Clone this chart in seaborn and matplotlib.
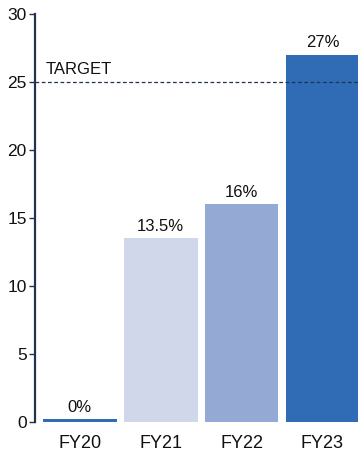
import matplotlib
matplotlib.use("Agg")
import matplotlib.pyplot as plt
import seaborn as sns
import pandas as pd

categories = ["FY20", "FY21", "FY22", "FY23"]
values = [0.2, 13.5, 16, 27]
value_labels = ["0%", "13.5%", "16%", "27%"]
colors = ["#2f6cb5", "#d0d7ea", "#95a9d5", "#2f6cb5"]
target = 25
yticks = [0, 5, 10, 15, 20, 25, 30]

sns.set_style("white")
plt.rcParams["font.family"] = ["Liberation Sans", "DejaVu Sans"]

navy = "#22324f"
df = pd.DataFrame({"cat": categories, "val": values})

fig = plt.figure(figsize=(3.58, 4.59), dpi=100)
ax = fig.add_axes([35 / 358, 1 - 422 / 459, (358 - 35) / 358, (422 - 14) / 459])

sns.barplot(data=df, x="cat", y="val", hue="cat", palette=colors, legend=False,
            width=0.91, ax=ax, saturation=1, linewidth=0)

ax.set_xlim(-0.555, 3.44)
ax.set_ylim(0, 30)
ax.set_yticks(yticks)
ax.set_xlabel("")
ax.set_ylabel("")

for s in ["top", "right", "bottom"]:
    ax.spines[s].set_visible(False)
ax.spines["left"].set_color(navy)
ax.spines["left"].set_linewidth(1.6)
ax.tick_params(axis="y", left=True, length=4, width=1, color=navy, labelsize=12.5,
               labelcolor="#111111", pad=2)
ax.tick_params(axis="x", length=0, labelsize=13, labelcolor="#111111", pad=9)

ax.axhline(target, color=navy, linestyle=(0, (3, 2)), linewidth=0.9, zorder=5)
ax.text(-0.42, target + 0.4, "TARGET", fontsize=12, color="#111111", va="bottom", ha="left")

for i, (v, lab) in enumerate(zip(values, value_labels)):
    ax.text(i, max(v, 0) + 0.35, lab, ha="center", va="bottom", fontsize=12, color="#111111")

fig.savefig("out.png", dpi=100)
